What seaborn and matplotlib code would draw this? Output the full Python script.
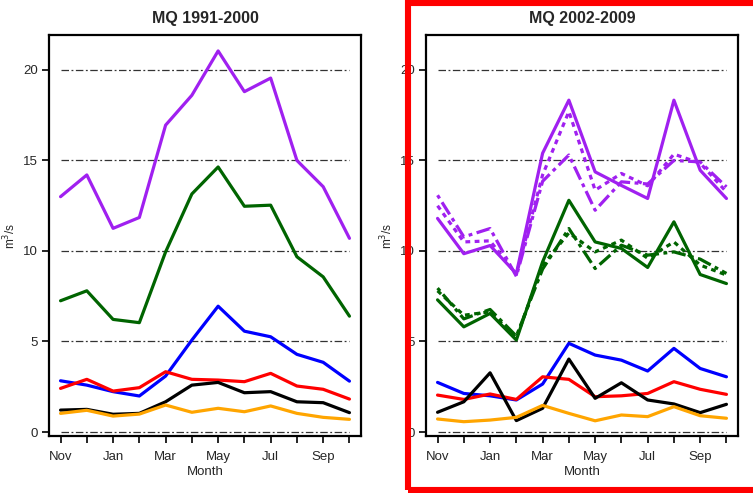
import numpy as np
import pandas as pd
import matplotlib
matplotlib.use("Agg")
import matplotlib.pyplot as plt
from matplotlib.patches import Rectangle
import seaborn as sns

# Hydrological year, November to October
months = ["Nov", "Dec", "Jan", "Feb", "Mar", "Apr", "May", "Jun", "Jul", "Aug", "Sep", "Oct"]
tick_labels = ["Nov", "", "Jan", "", "Mar", "", "May", "", "Jul", "", "Sep", ""]
y_ticks = [0, 5, 10, 15, 20]

# Mean monthly discharge (m3/s), 1991-2000
p1_purple = [13.0, 14.2, 11.25, 11.85, 16.95, 18.6, 21.05, 18.8, 19.55, 15.0, 13.55, 10.7]
p1_green  = [7.25, 7.8, 6.22, 6.04, 9.95, 13.15, 14.64, 12.47, 12.53, 9.68, 8.57, 6.4]
p1_blue   = [2.83, 2.59, 2.23, 1.99, 3.09, 5.08, 6.95, 5.57, 5.26, 4.29, 3.85, 2.81]
p1_red    = [2.41, 2.91, 2.26, 2.45, 3.33, 2.91, 2.87, 2.78, 3.24, 2.54, 2.36, 1.82]
p1_black  = [1.21, 1.25, 0.98, 1.03, 1.67, 2.59, 2.74, 2.17, 2.23, 1.67, 1.62, 1.07]
p1_orange = [1.03, 1.2, 0.88, 0.99, 1.49, 1.09, 1.31, 1.12, 1.44, 1.03, 0.81, 0.7]

# Mean monthly discharge (m3/s), 2002-2009
p2_purple   = [11.8, 9.85, 10.3, 8.75, 15.4, 18.33, 14.37, 13.62, 12.9, 18.33, 14.46, 12.9]
p2_purple_b = [12.5, 10.5, 10.56, 8.7, 14.2, 17.7, 13.36, 14.28, 13.6, 15.35, 14.85, 13.26]
p2_purple_c = [13.08, 10.78, 11.24, 8.6, 13.85, 15.3, 12.25, 13.82, 13.7, 15.0, 14.92, 13.54]
p2_green    = [7.3, 5.81, 6.55, 5.08, 9.4, 12.8, 10.5, 10.14, 9.09, 11.61, 8.7, 8.2]
p2_green_b  = [7.8, 6.45, 6.64, 5.2, 9.2, 11.0, 9.95, 10.6, 9.6, 10.5, 9.22, 8.67]
p2_green_c  = [7.95, 6.25, 6.77, 5.3, 9.0, 11.24, 9.03, 10.32, 9.77, 9.95, 9.55, 8.76]
p2_blue     = [2.74, 2.13, 2.0, 1.77, 2.65, 4.9, 4.25, 3.97, 3.37, 4.62, 3.51, 3.05]
p2_red      = [2.04, 1.8, 2.1, 1.8, 3.05, 2.91, 1.95, 2.0, 2.13, 2.78, 2.36, 2.08]
p2_black    = [1.09, 1.67, 3.27, 0.63, 1.31, 4.03, 1.86, 2.72, 1.77, 1.55, 1.07, 1.53]
p2_orange   = [0.72, 0.57, 0.66, 0.81, 1.47, 1.03, 0.62, 0.94, 0.85, 1.4, 0.9, 0.76]

palette = {"purple": "#A020F0", "green": "#006400", "blue": "#0000FF",
           "red": "#FF0000", "black": "#000000", "orange": "#FFA500"}
dashes = {"solid": "", "dotted": (1.5, 1.4), "dotdash": (1.2, 1.4, 4.5, 1.4)}


def long_frame(series):
    rows = []
    for (name, style), vals in series:
        for i, v in enumerate(vals):
            rows.append({"month": i, "Q": v, "gauge": name, "kind": style})
    return pd.DataFrame(rows)


df1 = long_frame([
    (("purple", "solid"), p1_purple), (("green", "solid"), p1_green),
    (("blue", "solid"), p1_blue), (("red", "solid"), p1_red),
    (("black", "solid"), p1_black), (("orange", "solid"), p1_orange),
])
df2 = long_frame([
    (("purple", "solid"), p2_purple), (("purple", "dotted"), p2_purple_b),
    (("purple", "dotdash"), p2_purple_c),
    (("green", "solid"), p2_green), (("green", "dotted"), p2_green_b),
    (("green", "dotdash"), p2_green_c),
    (("blue", "solid"), p2_blue), (("red", "solid"), p2_red),
    (("black", "solid"), p2_black), (("orange", "solid"), p2_orange),
])

sns.set_theme(style="white")
plt.rcParams["font.family"] = ["Liberation Sans", "DejaVu Sans"]

W, H = 753, 493
fig = plt.figure(figsize=(W / 100, H / 100), dpi=100)
ax1 = fig.add_axes([49 / W, 1 - 436 / H, 312 / W, 401 / H])
ax2 = fig.add_axes([426 / W, 1 - 436 / H, 312 / W, 401 / H])

for ax, df, title in [(ax1, df1, "MQ 1991-2000"), (ax2, df2, "MQ 2002-2009")]:
    ax.hlines(y_ticks, 0, 11, colors="#333333", linestyles=(0, (6, 2, 1.5, 2)),
              linewidth=0.9, zorder=1)
    sns.lineplot(data=df, x="month", y="Q", hue="gauge", style="kind",
                 units=None, palette=palette, dashes=dashes, sort=False,
                 estimator=None, linewidth=2.3, legend=False, ax=ax, zorder=3)
    ax.set_xlim(-0.44, 11.44)
    ax.set_ylim(-0.22, 21.93)
    ax.set_xticks(range(12))
    ax.set_xticklabels(tick_labels, fontsize=9.5)
    ax.set_yticks(y_ticks)
    ax.set_yticklabels([str(t) for t in y_ticks], fontsize=9.5)
    ax.tick_params(axis="both", direction="out", length=5, width=1.2,
                   color="black", bottom=True, left=True, pad=3)
    ax.tick_params(axis="x", pad=6)
    for s in ax.spines.values():
        s.set_color("black")
        s.set_linewidth(1.6)
    ax.set_xlabel("Month", fontsize=9.5, labelpad=2)
    ax.set_ylabel("m$^3$/s", fontsize=8.5)
    ax.yaxis.set_label_coords(-0.098, 0.5)
    ax.set_title(title, fontsize=11.5, fontweight="bold", pad=9)
    ax.grid(False)

# Highlight frame around the second period
frame = Rectangle((408 / W, 3 / H), 360 / W, 487 / H, transform=fig.transFigure,
                  fill=False, edgecolor="#FF0000", linewidth=4.4, zorder=10,
                  clip_on=False)
fig.patches.append(frame)

fig.savefig("out.png", dpi=100, facecolor="white")
